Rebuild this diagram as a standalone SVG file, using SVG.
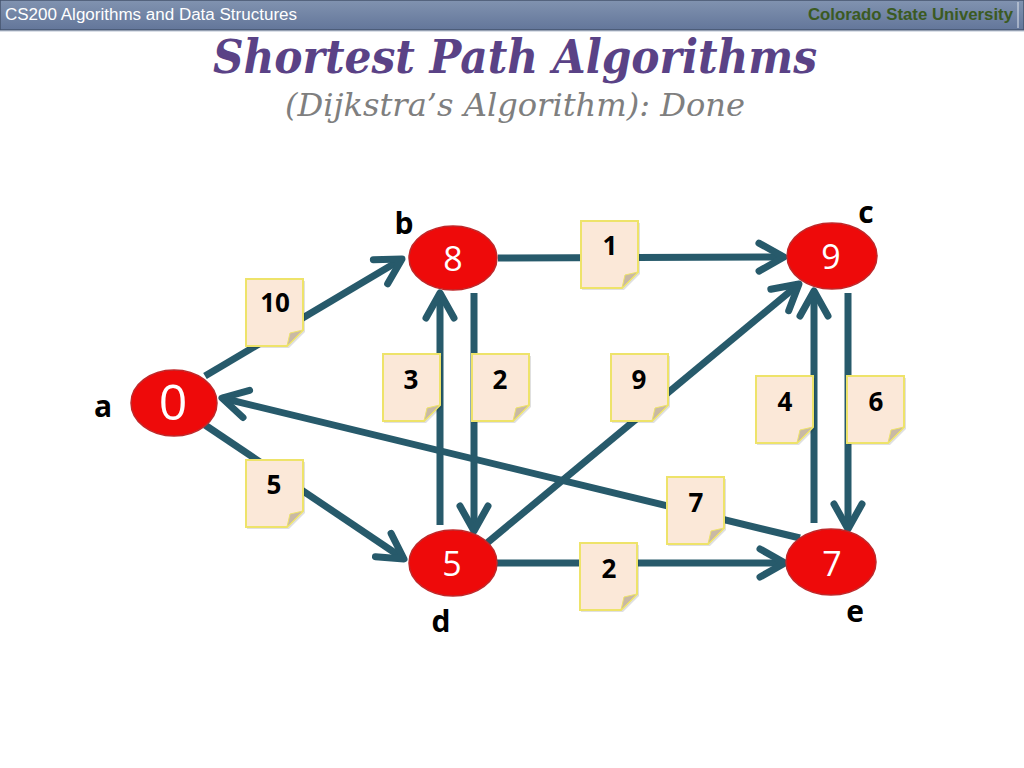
<svg xmlns="http://www.w3.org/2000/svg" xmlns:xlink="http://www.w3.org/1999/xlink" width="1024" height="768" viewBox="0 0 1024 768">
<style>
.edge{stroke:#275a6b;stroke-width:7;fill:none;marker-end:url(#arr)}
.node{fill:#ee0a0a;stroke:#c0282a;stroke-width:1.5}
.val{font-family:"Open Sans","Liberation Sans",sans-serif;fill:#ffffff;text-anchor:middle}
.lbl{font-family:"Open Sans","Liberation Sans",sans-serif;font-weight:bold;font-size:30px;fill:#000;text-anchor:middle}
.w{font-family:"Open Sans","Liberation Sans",sans-serif;font-weight:bold;font-size:26px;fill:#000;text-anchor:middle}
</style>
<defs>
<linearGradient id="hdr" x1="0" y1="0" x2="0" y2="1">
<stop offset="0" stop-color="#8193b0"/>
<stop offset="1" stop-color="#63769a"/>
</linearGradient>
<marker id="arr" markerUnits="userSpaceOnUse" viewBox="-30 -20 40 40" markerWidth="40" markerHeight="40" refX="0" refY="0" orient="auto">
<path d="M-25,-14 L0,0 L-25,14" fill="none" stroke="#275a6b" stroke-width="7" stroke-linecap="round" stroke-linejoin="round"/>
</marker>
<g id="note">
<path d="M1,2 H59 V53 L43,69 H1 Z" fill="#000" opacity="0.12"/>
<path d="M0,0 H57 V51 L41,67 H0 Z" fill="#fbe8d8" stroke="#eee36a" stroke-width="2"/>
<path d="M41,67 L57,51 L44,54 Z" fill="#c9b9a4" stroke="#eee36a" stroke-width="1"/>
</g>
</defs>
<rect width="1024" height="768" fill="#ffffff"/>
<g id="header">
<rect x="0" y="0" width="1024" height="30" fill="url(#hdr)" stroke="#45546e" stroke-width="1.5"/>
<line x1="0" y1="31" x2="1024" y2="31" stroke="#b8c2d2" stroke-width="1"/>
<line x1="1018" y1="2" x2="1018" y2="28" stroke="#dfe4ec" stroke-width="1"/>
<text x="5" y="20" font-family="Liberation Sans, Arial, sans-serif" font-size="16" fill="#ffffff" textLength="292" lengthAdjust="spacingAndGlyphs">CS200 Algorithms and Data Structures</text>
<text x="1013" y="20" font-family="Liberation Sans, Arial, sans-serif" font-size="16" font-weight="bold" fill="#3b5a22" text-anchor="end" textLength="205" lengthAdjust="spacingAndGlyphs">Colorado State University</text>
</g>
<g id="title">
<text x="515" y="73" font-family="'DejaVu Serif', 'Liberation Serif', serif" font-style="italic" font-weight="bold" font-size="46" fill="#5a4286" text-anchor="middle" textLength="604" lengthAdjust="spacingAndGlyphs">Shortest Path Algorithms</text>
<text x="515" y="116" font-family="'DejaVu Serif', 'Liberation Serif', serif" font-style="italic" font-size="31" fill="#7f7f7f" text-anchor="middle" textLength="460" lengthAdjust="spacingAndGlyphs">(Dijkstra’s Algorithm): Done</text>
</g>
<g id="connectors">
<path class="edge" d="M205,376 L402,259"/>
<path class="edge" d="M498,258 L784,257"/>
<path class="edge" d="M440,525 L440,293"/>
<path class="edge" d="M474,293 L474,531"/>
<path class="edge" d="M487,543 L799,284"/>
<path class="edge" d="M497,563 L785,563"/>
<path class="edge" d="M800,538 L222,398"/>
<path class="edge" d="M814,523 L814,291"/>
<path class="edge" d="M848,293 L848,529"/>
<path class="edge" d="M205,425 L404,559"/>
</g>
<g id="weights">
<use xlink:href="#note" x="246" y="279"/><text class="w" x="275" y="312">10</text>
<use xlink:href="#note" x="581" y="221"/><text class="w" x="610" y="255">1</text>
<use xlink:href="#note" x="383" y="354"/><text class="w" x="411" y="389">3</text>
<use xlink:href="#note" x="472" y="354"/><text class="w" x="500" y="389">2</text>
<use xlink:href="#note" x="611" y="354"/><text class="w" x="639" y="389">9</text>
<use xlink:href="#note" x="756" y="376"/><text class="w" x="785" y="411">4</text>
<use xlink:href="#note" x="847" y="376"/><text class="w" x="876" y="411">6</text>
<use xlink:href="#note" x="246" y="460"/><text class="w" x="274" y="494">5</text>
<use xlink:href="#note" x="667" y="477"/><text class="w" x="696" y="512">7</text>
<use xlink:href="#note" x="580" y="543"/><text class="w" x="609" y="578">2</text>
</g>
<g id="node-a">
<ellipse class="node" cx="174" cy="403" rx="43" ry="33"/>
<text class="val" x="173" y="420" font-size="50">0</text>
<text class="lbl" x="103" y="417">a</text>
</g>
<g id="node-b">
<ellipse class="node" cx="453" cy="258" rx="44" ry="32"/>
<text class="val" x="453" y="271" font-size="34">8</text>
<text class="lbl" x="404" y="234">b</text>
</g>
<g id="node-c">
<ellipse class="node" cx="832" cy="256" rx="45" ry="33"/>
<text class="val" x="831" y="269" font-size="34">9</text>
<text class="lbl" x="866" y="223">c</text>
</g>
<g id="node-d">
<ellipse class="node" cx="453" cy="563" rx="44" ry="33"/>
<text class="val" x="452" y="576" font-size="34">5</text>
<text class="lbl" x="441" y="632">d</text>
</g>
<g id="node-e">
<ellipse class="node" cx="831" cy="562" rx="45" ry="33"/>
<text class="val" x="832" y="576" font-size="34">7</text>
<text class="lbl" x="855" y="622">e</text>
</g>
</svg>
